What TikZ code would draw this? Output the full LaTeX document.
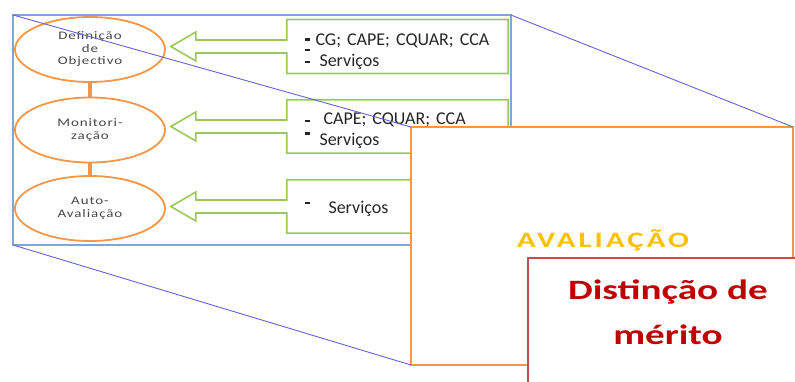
\documentclass[tikz,border=0pt]{standalone}
\usepackage{fontspec}
\setmainfont{Carlito}
\newfontfamily\ellfont[LetterSpace=8,FakeStretch=1.3]{Carlito}
\newfontfamily\widefont[FakeStretch=1.4]{Carlito}
\newfontfamily\avalfont[FakeStretch=1.4,LetterSpace=14]{Carlito}
\usetikzlibrary{shapes.geometric,positioning,calc}
\definecolor{frameblue}{RGB}{125,165,222}
\definecolor{zoomblue}{RGB}{100,100,210}
\definecolor{ringorange}{RGB}{247,150,70}
\definecolor{callgreen}{RGB}{155,200,90}
\definecolor{meritred}{RGB}{192,80,77}
\definecolor{merittxt}{RGB}{192,0,0}
\definecolor{avalgold}{RGB}{255,192,0}
\newcommand\bul[1][0.3em]{\rule[#1]{4.5pt}{2.2pt}}
\newcommand\lift[1]{\rule{0pt}{#1}}
\tikzset{
  framebox/.style={draw=frameblue,line width=1.4pt,outer sep=0pt,anchor=north west},
  stage/.style={ellipse,draw=ringorange,line width=1.8pt,minimum width=150pt,
                minimum height=65pt,inner sep=0pt,align=center,text=black!72,
                font=\ellfont\fontsize{11.5}{12.5}\selectfont},
  stagelink/.style={ringorange,line width=4pt},
  actorbox/.style={minimum width=221pt,minimum height=53pt,inner xsep=18pt,
                   text width=185pt,align=left,text=black!85,
                   font=\fontsize{18}{21}\selectfont},
  actorarrow/.style={draw=callgreen,line width=1.6pt,line join=miter},
  zoomline/.style={zoomblue,line width=0.9pt},
  avalbox/.style={draw=ringorange,line width=2.4pt,fill=white,outer sep=0pt,
                  anchor=north west,minimum width=382pt,minimum height=238pt},
  meritbox/.style={draw=meritred,line width=1.2pt,fill=white,outer sep=0pt,
                   anchor=north west,minimum width=300pt,minimum height=150pt},
}
\begin{document}
\begin{tikzpicture}[x=1pt,y=-1pt]
  \useasboundingbox (0,0) rectangle (795,382);
  \node[framebox,minimum width=498pt,minimum height=230pt] (frame) at (13,15) {};
  % stages on the left
  \node[stage] (defobj) at (90,49.5) {Definição\\de\\Objectivo};
  \node[stage] (monit) at (90,130) {Monitori-\\zação};
  \node[stage] (autoav) at (90,208.5) {Auto-\\Avaliação};
  \draw[stagelink] (defobj) -- (monit);
  \draw[stagelink] (monit) -- (autoav);
  % who feeds each stage
  \node[actorbox] (cdef) at (397.5,46.5)
    {\lift{23pt}\bul\ CG; CAPE; CQUAR; CCA\\\bul[0.22em]\llap{\bul[0.9em]}\hspace{4pt} Serviços};
  \node[actorbox] (cmon) at (397.5,126.5)
    {\lift{20pt}\bul[0.14em]\hspace{8pt} CAPE; CQUAR; CCA\\\bul[0.6em]\hspace{4pt} Serviços};
  \node[actorbox] (caut) at (397.5,206.5) {\lift{17pt}\bul[0.5em]\hspace{13pt} Serviços};
  \foreach \st/\cb in {defobj/cdef,monit/cmon,autoav/caut}{
    \coordinate (tipx) at ($(\st.east)+(5,0)$);
    \coordinate (tip) at (tipx |- \cb.west);
    \draw[actorarrow] (tip) -- ++(25,-14.5) -- ++(0,8)
      -- ($(\cb.west)+(0,-6.5)$) -- (\cb.north west) -- (\cb.north east)
      -- (\cb.south east) -- (\cb.south west) -- ($(\cb.west)+(0,6.5)$)
      -- ($(tip)+(25,6.5)$) -- ++(0,8) -- cycle;
  }
  % zoomed evaluation panel
  \node[avalbox] (aval) at (411,127) {};
  \draw[zoomline] (frame.north west) -- (aval.north west);
  \draw[zoomline] (frame.north east) -- (aval.north east);
  \draw[zoomline] (frame.south west) -- (aval.south west);
  \node[text=avalgold,font=\avalfont\bfseries\fontsize{22}{24}\selectfont] (avaltxt) at (603,240) {AVALIAÇÃO};
  \node[meritbox] (mbox) at (528,258) {};
  \node[align=center,text=merittxt,font=\widefont\bfseries\fontsize{28}{45}\selectfont] (mtxt) at (668,312) {Distinção de\\mérito};
\end{tikzpicture}
\end{document}
